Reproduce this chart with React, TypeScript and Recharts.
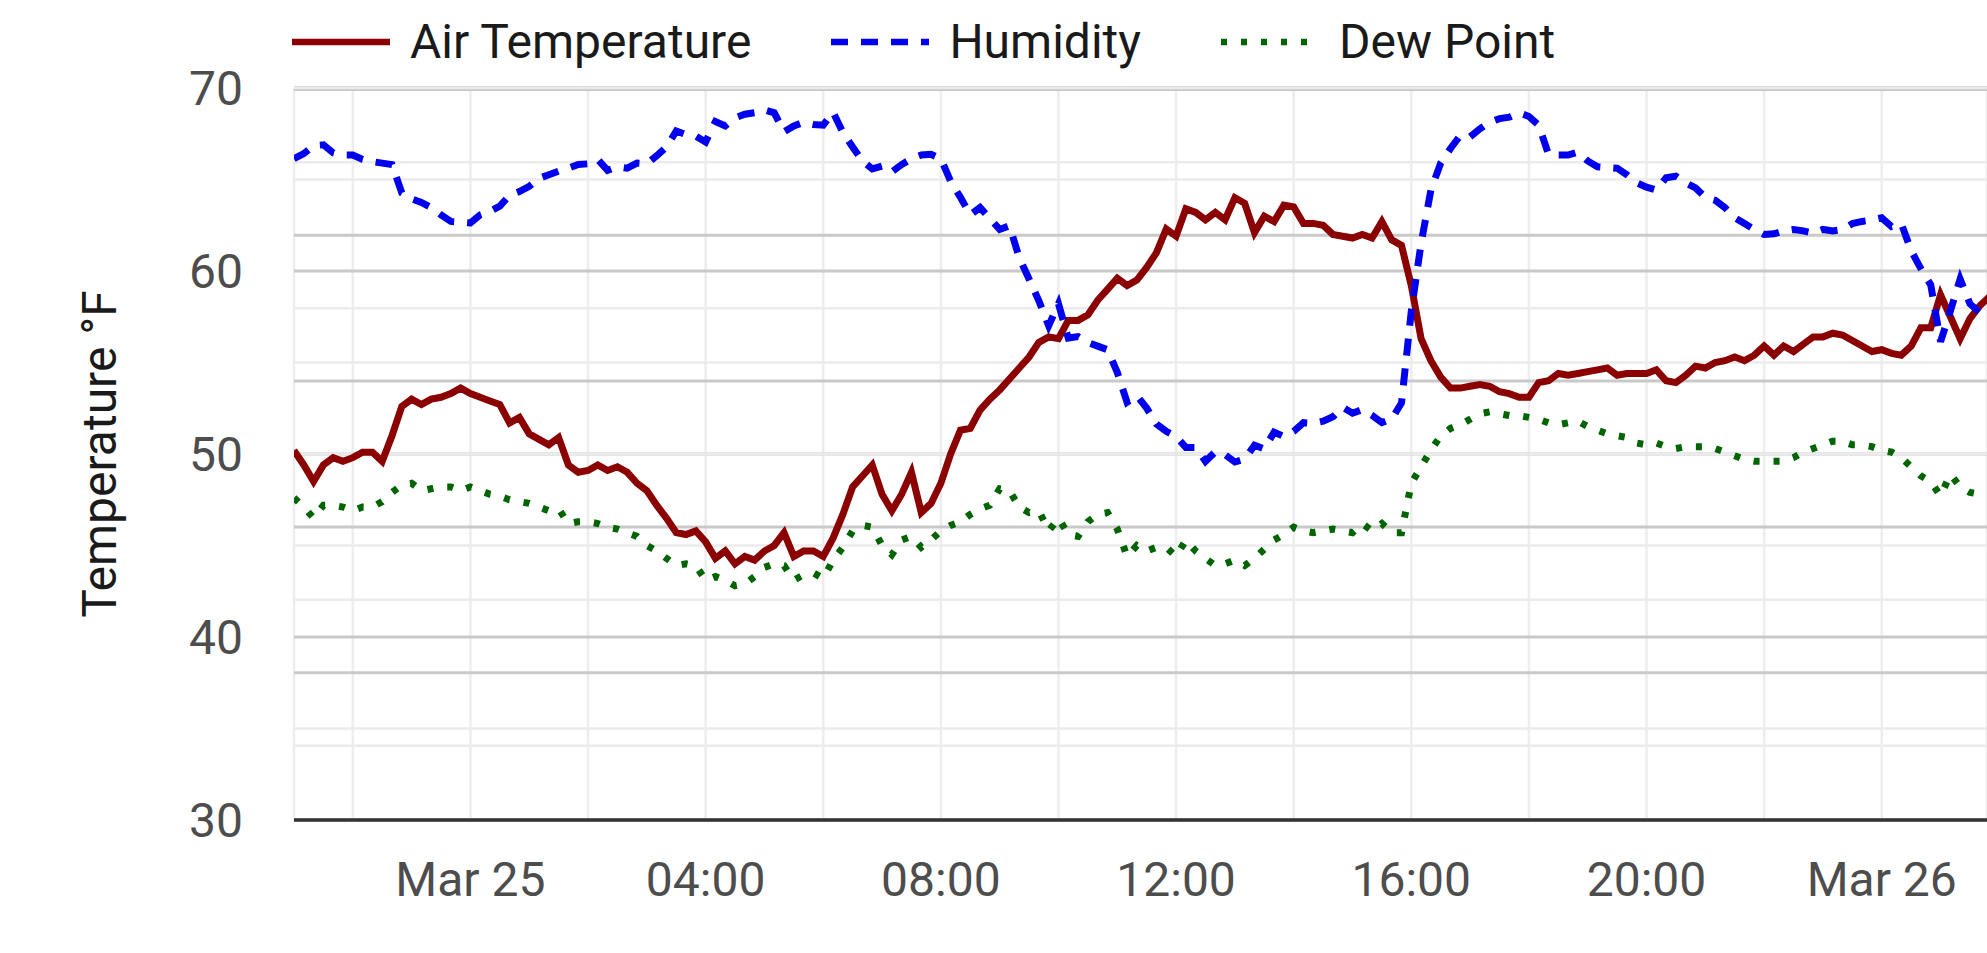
import React from 'react';
import { LineChart, Line, XAxis, YAxis, CartesianGrid } from 'recharts';

// readings every 10 minutes, starting Mar 24 21:00 (hours relative to Mar 25 00:00)
const START_HOUR = -3;
const STEP_HOURS = 1 / 6;
const END_HOUR = 25.79;

const airTemperature = [
  50.2, 49.4, 48.5, 49.4, 49.8, 49.6, 49.8, 50.1, 50.1, 49.6,
  51.0, 52.6, 53.0, 52.7, 53.0, 53.1, 53.3, 53.6, 53.3, 53.1,
  52.9, 52.7, 51.7, 52.0, 51.1, 50.8, 50.5, 50.9, 49.4, 49.0,
  49.1, 49.4, 49.1, 49.3, 49.0, 48.4, 48.0, 47.2, 46.5, 45.7,
  45.6, 45.8, 45.2, 44.3, 44.7, 44.0, 44.4, 44.2, 44.7, 45.0,
  45.7, 44.4, 44.7, 44.7, 44.4, 45.4, 46.7, 48.2, 48.8, 49.4,
  47.8, 46.9, 47.8, 49.0, 46.8, 47.3, 48.4, 50.0, 51.3, 51.4,
  52.4, 53.0, 53.5, 54.1, 54.7, 55.3, 56.1, 56.4, 56.3, 57.3,
  57.3, 57.6, 58.4, 59.0, 59.6, 59.2, 59.5, 60.2, 61.0, 62.3,
  61.9, 63.4, 63.2, 62.8, 63.2, 62.8, 64.0, 63.7, 62.1, 63.0,
  62.7, 63.6, 63.5, 62.6, 62.6, 62.5, 62.0, 61.9, 61.8, 62.0,
  61.8, 62.7, 61.7, 61.4, 59.2, 56.3, 55.1, 54.2, 53.6, 53.6,
  53.7, 53.8, 53.7, 53.4, 53.3, 53.1, 53.1, 53.9, 54.0, 54.4,
  54.3, 54.4, 54.5, 54.6, 54.7, 54.3, 54.4, 54.4, 54.4, 54.6,
  54.0, 53.9, 54.3, 54.8, 54.7, 55.0, 55.1, 55.3, 55.1, 55.4,
  55.9, 55.4, 55.9, 55.6, 56.0, 56.4, 56.4, 56.6, 56.5, 56.2,
  55.9, 55.6, 55.7, 55.5, 55.4, 55.9, 56.9, 56.9, 58.7, 57.5,
  56.3, 57.4, 58.1, 58.6,
];

const humidity = [
  90.5, 91.2, 92.3, 92.4, 91.3, 91.0, 91.0, 90.4, 90.1, 89.9,
  89.7, 85.8, 85.0, 84.5, 83.8, 82.8, 81.9, 81.8, 81.7, 82.8,
  83.3, 84.0, 85.5, 86.0, 86.7, 87.8, 88.3, 88.8, 89.2, 89.7,
  89.8, 90.4, 88.9, 89.4, 89.2, 89.9, 89.8, 90.9, 92.1, 94.3,
  93.8, 93.6, 92.8, 95.6, 95.0, 96.1, 96.6, 96.8, 97.2, 96.8,
  94.2, 95.0, 95.5, 95.2, 95.1, 96.9, 94.1, 92.1, 90.2, 89.1,
  89.5, 88.7, 89.7, 90.5, 91.0, 91.1, 90.5, 87.4, 85.2, 82.8,
  83.8, 82.3, 80.8, 81.3, 76.9, 74.0, 71.0, 67.6, 70.6, 65.9,
  66.1, 65.3, 64.8, 64.3, 61.2, 57.1, 58.0, 56.3, 54.1, 53.1,
  52.4, 50.9, 50.9, 49.0, 50.3, 49.9, 48.9, 49.3, 51.2, 50.7,
  53.0, 52.4, 53.1, 54.3, 54.2, 54.5, 55.1, 56.4, 55.6, 56.1,
  55.3, 54.3, 54.8, 57.0, 69.6, 78.9, 86.2, 89.9, 91.9, 93.7,
  93.5, 94.6, 95.5, 96.0, 96.2, 96.8, 96.3, 95.1, 91.1, 91.0,
  91.0, 91.4, 90.2, 89.4, 89.3, 89.2, 88.3, 87.2, 86.6, 86.2,
  87.9, 88.1, 87.2, 86.5, 85.2, 84.8, 83.8, 82.4, 81.6, 80.8,
  80.1, 80.2, 80.6, 80.8, 80.6, 80.3, 80.8, 80.6, 80.8, 81.6,
  81.9, 82.1, 82.4, 81.2, 81.6, 77.9, 75.4, 73.2, 65.4, 69.6,
  74.0, 70.6, 69.4, 69.1,
];

const dewPoint = [
  47.6, 47.1, 46.5, 47.2, 47.2, 47.1, 46.9, 47.1, 47.1, 47.4,
  47.9, 48.3, 48.4, 48.0, 48.1, 48.2, 48.2, 48.0, 48.2, 48.0,
  47.8, 47.7, 47.5, 47.4, 47.3, 47.1, 46.9, 47.0, 46.2, 46.3,
  46.3, 46.2, 46.0, 45.9, 45.7, 45.5, 45.0, 44.7, 44.3, 43.9,
  44.0, 43.9, 43.1, 43.3, 43.1, 42.8, 42.9, 43.3, 43.8, 44.0,
  43.9, 43.1, 43.4, 43.5, 43.2, 44.2, 44.9, 45.8, 46.1, 46.0,
  45.0, 44.5, 45.3, 45.5, 44.9, 45.3, 45.8, 46.1, 46.3, 46.7,
  47.0, 47.2, 48.1, 48.0, 47.1, 46.8, 46.9, 45.8, 46.5, 45.6,
  45.5, 46.3, 46.7, 46.8, 45.9, 44.4, 45.0, 44.7, 44.9, 44.9,
  44.4, 45.3, 44.7, 44.3, 43.9, 44.0, 44.2, 43.9, 44.3, 44.8,
  45.3, 45.6, 46.0, 45.8, 45.7, 45.8, 45.9, 45.8, 45.7, 46.2,
  45.8, 46.2, 45.7, 45.7, 48.4, 49.3, 50.2, 51.0, 51.4, 51.6,
  51.9, 52.2, 52.3, 52.2, 52.1, 52.1, 52.0, 51.9, 51.7, 51.6,
  51.7, 51.8, 51.5, 51.3, 51.1, 51.0, 50.9, 50.6, 50.5, 50.6,
  50.4, 50.3, 50.4, 50.4, 50.4, 50.3, 50.1, 49.9, 49.7, 49.6,
  49.6, 49.6, 49.6, 49.8, 50.1, 50.3, 50.5, 50.7, 50.7, 50.5,
  50.5, 50.4, 50.2, 50.1, 49.8, 49.3, 48.8, 48.5, 47.7, 48.9,
  48.2, 47.9, 47.8, 47.8,
];

const xTickHours = [-2, 0, 2, 4, 6, 8, 10, 12, 14, 16, 18, 20, 22, 24];
const xTickLabels: Record<number, string> = {
  0: 'Mar 25',
  4: '04:00',
  8: '08:00',
  12: '12:00',
  16: '16:00',
  20: '20:00',
  24: 'Mar 26',
};
const tempTicks = [30, 40, 50, 60, 70];
const tempMinorTicks = [35, 45, 55, 65];
const humidityTicks = [20, 40, 60, 80, 100];
const humidityMinorTicks = [10, 30, 50, 70, 90];

const series = [
  { key: 'air', name: 'Air Temperature', color: '#8b0000', dash: undefined as string | undefined },
  { key: 'humidity', name: 'Humidity', color: '#0000ee', dash: '17 13' },
  { key: 'dew', name: 'Dew Point', color: '#006400', dash: '6 14' },
];

const data = airTemperature.map((v, i) => ({
  hour: START_HOUR + i * STEP_HOURS,
  air: v,
  humidity: humidity[i],
  dew: dewPoint[i],
}));

const FONT = 'Roboto';
const tickStyle = { fill: '#4d4d4d', fontSize: 48, fontFamily: FONT };
// helper axes only exist to place extra grid lines, so their labels are invisible
const hiddenTick = { fill: 'transparent', fontSize: 1 };

const renderYLabel = (props: any) => {
  const { viewBox } = props;
  const cx = viewBox.x - 95;
  const cy = viewBox.y + viewBox.height / 2;
  return (
    <text
      x={cx}
      y={cy}
      transform={`rotate(-90 ${cx} ${cy})`}
      textAnchor="middle"
      dominantBaseline="central"
      fill="#1a1a1a"
      fontSize={48}
      fontFamily={FONT}
    >
      Temperature °F
    </text>
  );
};

export default function App() {
  return (
    <div
      style={{
        position: 'absolute',
        left: 0,
        top: 0,
        width: 1987,
        height: 953,
        overflow: 'hidden',
        background: '#ffffff',
      }}
    >
      <div
        style={{
          position: 'absolute',
          left: 292,
          top: 18,
          height: 48,
          display: 'flex',
          alignItems: 'center',
          fontFamily: FONT,
          fontSize: 48,
          lineHeight: '48px',
          color: '#1a1a1a',
          whiteSpace: 'nowrap',
        }}
      >
        {series.map((s) => (
          <div key={s.key} style={{ display: 'flex', alignItems: 'center', marginRight: 80 }}>
            <svg width={98} height={20} style={{ display: 'block' }}>
              <line x1={0} x2={98} y1={10} y2={10} stroke={s.color} strokeWidth={6.5} strokeDasharray={s.dash} />
            </svg>
            <span style={{ marginLeft: 20 }}>{s.name}</span>
          </div>
        ))}
      </div>

      <LineChart width={1987} height={953} data={data} margin={{ top: 88, right: 0, bottom: 33, left: 194 }}>
        <CartesianGrid yAxisId="temp" horizontal={false} stroke="#ededed" strokeWidth={2.5} />
        <CartesianGrid yAxisId="tempMinor" vertical={false} stroke="#ebebeb" strokeWidth={2.5} />
        <CartesianGrid yAxisId="temp" vertical={false} stroke="#c9c9c9" strokeWidth={3} />
        <CartesianGrid yAxisId="hum" vertical={false} stroke="#c9c9c9" strokeWidth={3} />
        <CartesianGrid yAxisId="humMinor" vertical={false} stroke="#ebebeb" strokeWidth={2.5} />

        <XAxis
          dataKey="hour"
          type="number"
          domain={[START_HOUR, END_HOUR]}
          allowDataOverflow
          ticks={xTickHours}
          interval={0}
          tickFormatter={(h: number) => xTickLabels[h] ?? ''}
          tickLine={false}
          tickSize={0}
          tickMargin={42}
          height={100}
          axisLine={{ stroke: '#333333', strokeWidth: 3.5 }}
          tick={tickStyle}
        />
        <YAxis
          yAxisId="temp"
          type="number"
          domain={[30, 70]}
          allowDataOverflow
          ticks={tempTicks}
          interval={0}
          width={100}
          axisLine={false}
          tickLine={false}
          tickSize={0}
          tickMargin={51}
          tick={tickStyle}
          label={{ content: renderYLabel }}
        />
        <YAxis
          yAxisId="tempMinor"
          type="number"
          domain={[30, 70]}
          allowDataOverflow
          ticks={tempMinorTicks}
          interval={0}
          width={0}
          tick={hiddenTick}
          axisLine={false}
          tickLine={false}
        />
        <YAxis
          yAxisId="hum"
          orientation="right"
          type="number"
          domain={[-0.2, 100.2]}
          allowDataOverflow
          ticks={humidityTicks}
          interval={0}
          width={0}
          tick={hiddenTick}
          axisLine={false}
          tickLine={false}
        />
        <YAxis
          yAxisId="humMinor"
          orientation="right"
          type="number"
          domain={[-0.2, 100.2]}
          allowDataOverflow
          ticks={humidityMinorTicks}
          interval={0}
          width={0}
          tick={hiddenTick}
          axisLine={false}
          tickLine={false}
        />

        <Line
          yAxisId="temp"
          type="linear"
          dataKey="air"
          name="Air Temperature"
          stroke="#8b0000"
          strokeWidth={7}
          dot={false}
          activeDot={false}
          isAnimationActive={false}
        />
        <Line
          yAxisId="hum"
          type="linear"
          dataKey="humidity"
          name="Humidity"
          stroke="#0000ee"
          strokeWidth={7}
          strokeDasharray="17 13"
          dot={false}
          activeDot={false}
          isAnimationActive={false}
        />
        <Line
          yAxisId="temp"
          type="linear"
          dataKey="dew"
          name="Dew Point"
          stroke="#006400"
          strokeWidth={7}
          strokeDasharray="6 14"
          dot={false}
          activeDot={false}
          isAnimationActive={false}
        />
      </LineChart>
    </div>
  );
}
